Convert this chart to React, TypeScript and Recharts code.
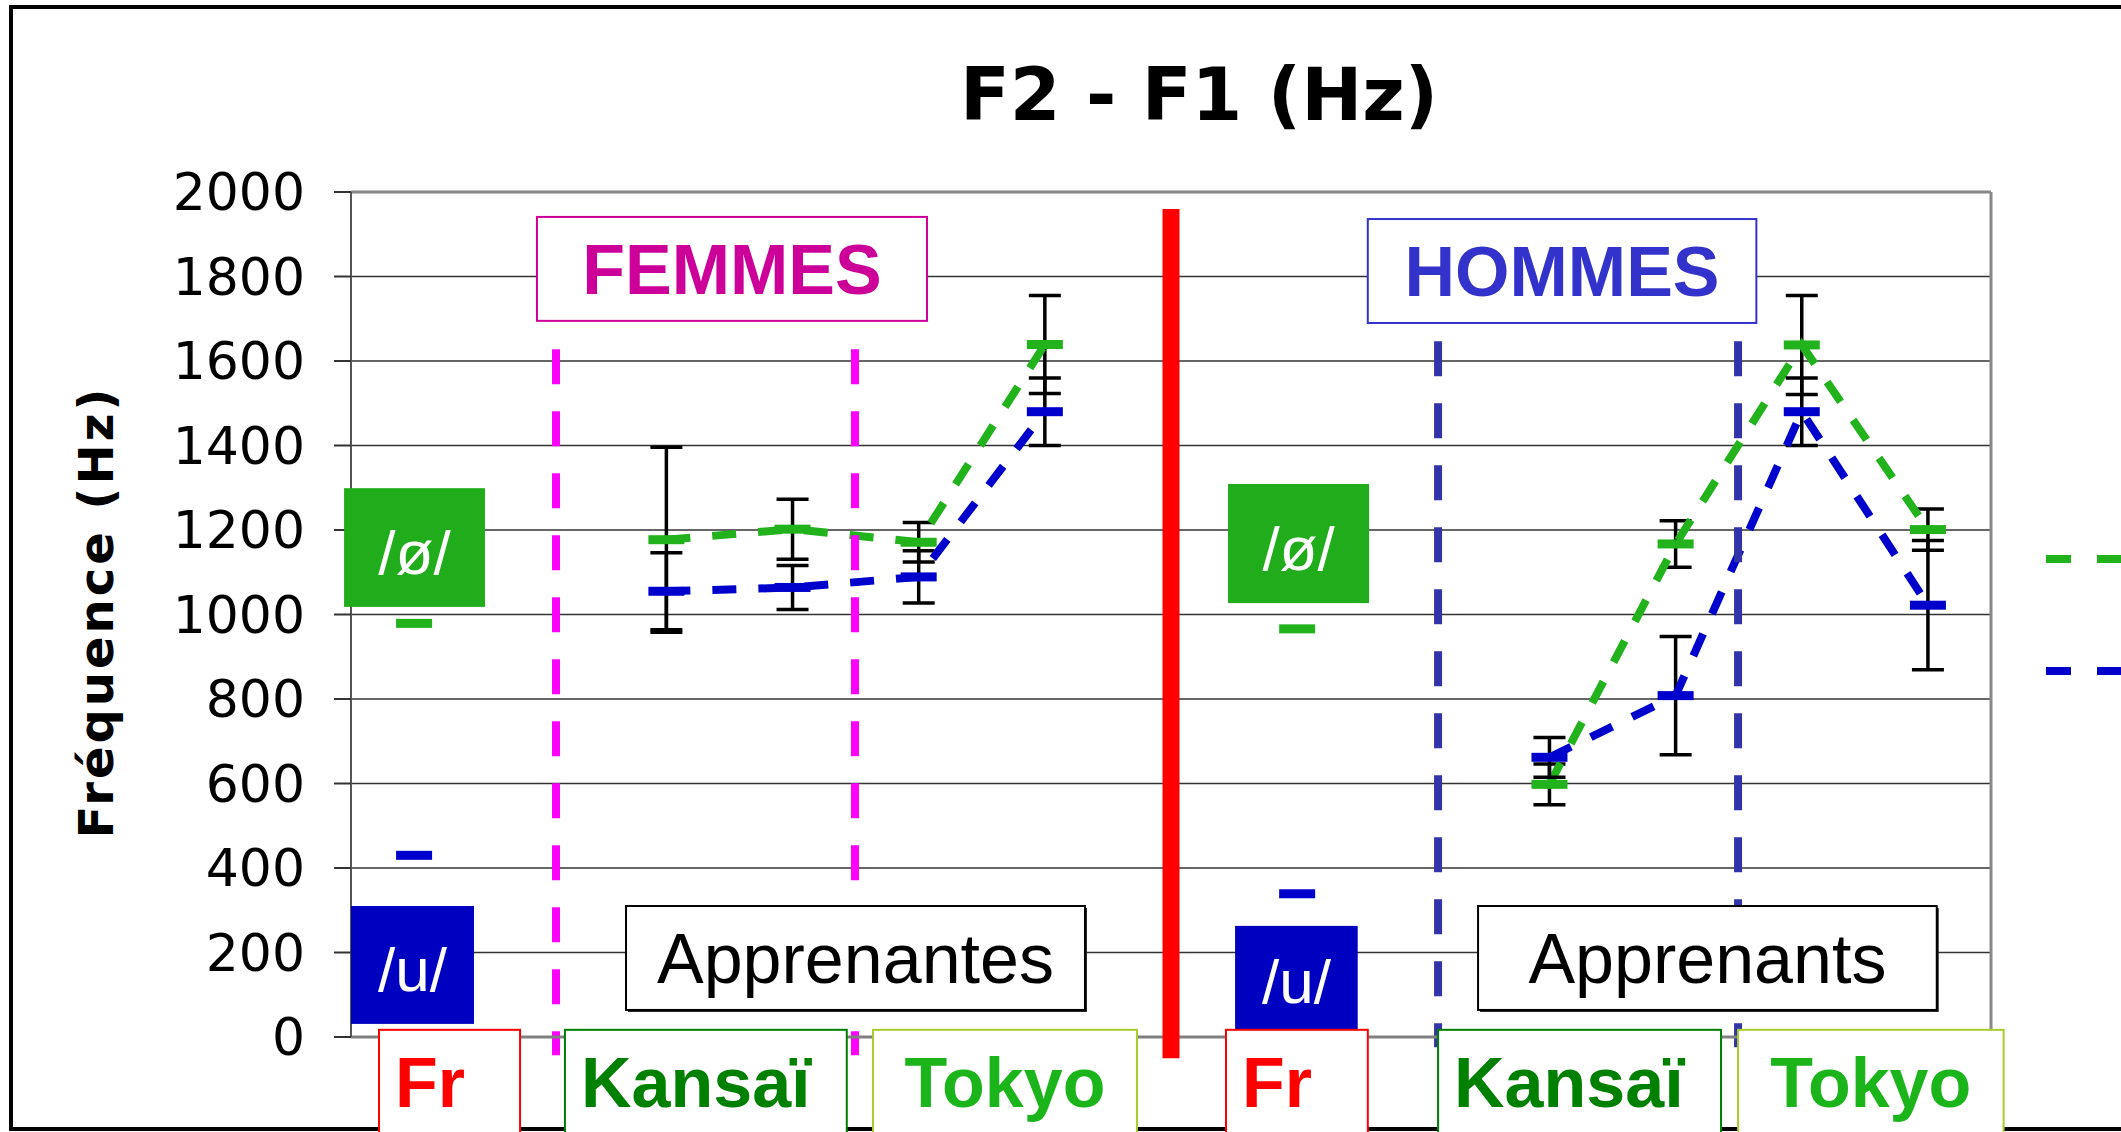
import React from 'react';
import {
  LineChart,
  Line,
  XAxis,
  YAxis,
  CartesianGrid,
  ErrorBar,
  ReferenceLine,
  ReferenceArea,
  Legend,
  Customized,
} from 'recharts';

// categories along the x axis (empty = spacer slot)
const groups = ['Fr', '', 'Kansaï', 'Kansaï', 'Tokyo', 'Tokyo', '', 'Fr', '', 'Kansaï', 'Kansaï', 'Tokyo', 'Tokyo'];
// /ø/ series
const oeValues = [979, null, 1177, 1202, 1171, 1639, null, 966, null, 598, 1167, 1638, 1201];
const oeErrors = [null, null, 219, 71, 47, 116, null, null, null, 48, 55, 117, 49];
// /u/ series
const uValues = [430, null, 1055, 1064, 1089, 1480, null, 339, null, 662, 808, 1480, 1022];
const uErrors = [null, null, 91, 52, 62, 80, null, null, null, 47, 140, 80, 153];
const yTicks = [0, 200, 400, 600, 800, 1000, 1200, 1400, 1600, 1800, 2000];
const legendOrder = ['/ø/', '/u/'];

const data = groups.map((g, i) => ({
  idx: i,
  group: g,
  oe: oeValues[i],
  oeErr: oeErrors[i],
  u: uValues[i],
  uErr: uErrors[i],
}));

const GREEN = '#21B21C';
const BLUE = '#0000CC';
const ARIAL = '"Liberation Sans", Arial, sans-serif';
const VERDANA = '"DejaVu Sans", Verdana, sans-serif';

// annotation boxes, in data units
const catBoxes = [
  { text: 'Fr', x1: -0.278, x2: 0.84, color: '#FF0000', border: '#FF0000', center: false },
  { text: 'Kansaï', x1: 1.196, x2: 3.43, color: '#008000', border: '#008000', center: false },
  { text: 'Tokyo', x1: 3.638, x2: 5.73, color: '#1BB51B', border: '#A8CC28', center: true },
  { text: 'Fr', x1: 6.436, x2: 7.56, color: '#FF0000', border: '#FF0000', center: false },
  { text: 'Kansaï', x1: 8.117, x2: 10.36, color: '#008000', border: '#008000', center: false },
  { text: 'Tokyo', x1: 10.495, x2: 12.6, color: '#1BB51B', border: '#A8CC28', center: true },
];

const noteBoxes = [
  { text: 'FEMMES', x1: 0.974, x2: 4.066, y1: 1695, y2: 1941, color: '#CC0099', fill: '#fff', border: '#CC0099', bold: true, size: 70, dy: 25, shadow: false },
  { text: 'HOMMES', x1: 7.56, x2: 10.64, y1: 1690, y2: 1936, color: '#3333CC', fill: '#fff', border: '#3333CC', bold: true, size: 70, dy: 25, shadow: false },
  { text: 'Apprenantes', x1: 1.68, x2: 5.318, y1: 64, y2: 310, color: '#000', fill: '#fff', border: '#000', bold: false, size: 70, dy: 25, shadow: true },
  { text: 'Apprenants', x1: 8.434, x2: 12.07, y1: 64, y2: 310, color: '#000', fill: '#fff', border: '#000', bold: false, size: 70, dy: 25, shadow: true },
  { text: '/ø/', x1: -0.555, x2: 0.562, y1: 1018, y2: 1299, color: '#fff', fill: '#21AC1B', border: 'none', bold: false, size: 62, dy: 26, shadow: false },
  { text: '/u/', x1: -0.5, x2: 0.475, y1: 31, y2: 310, color: '#fff', fill: '#0000C0', border: 'none', bold: false, size: 62, dy: 26, shadow: false },
  { text: '/ø/', x1: 6.452, x2: 7.57, y1: 1027, y2: 1309, color: '#fff', fill: '#21AC1B', border: 'none', bold: false, size: 62, dy: 26, shadow: false },
  { text: '/u/', x1: 6.508, x2: 7.48, y1: 19, y2: 263, color: '#fff', fill: '#0000C0', border: 'none', bold: false, size: 62, dy: 26, shadow: false },
];

const dividers = [
  { x: 1.125, top: 1628, bottom: -43, color: '#FF00FF' },
  { x: 3.495, top: 1628, bottom: -43, color: '#FF00FF' },
  { x: 8.117, top: 1647, bottom: -24, color: '#3333AA' },
  { x: 10.495, top: 1647, bottom: -24, color: '#3333AA' },
];

const dashDot = (color: string) => (props: any) => {
  const { cx, cy, index } = props;
  if (cx == null || cy == null || isNaN(cy)) return <g key={'d' + index} />;
  return <rect key={'d' + index} x={cx - 18} y={cy - 4.5} width={36} height={9} fill={color} />;
};

const catShape = (b: any) => (p: any) => {
  const { x, y, width, height } = p;
  return (
    <g>
      <rect x={x} y={y} width={width} height={height} fill="#fff" stroke={b.border} strokeWidth={2} />
      <text
        x={b.center ? x + width / 2 : x + 16}
        y={y + 77}
        textAnchor={b.center ? 'middle' : 'start'}
        fontFamily={ARIAL}
        fontWeight="bold"
        fontSize={70}
        fill={b.color}
      >
        {b.text}
      </text>
    </g>
  );
};

const noteShape = (b: any) => (p: any) => {
  const { x, y, width, height } = p;
  return (
    <g>
      {b.shadow && <rect x={x + 2} y={y + 2} width={width} height={height} fill="#222" />}
      <rect
        x={x}
        y={y}
        width={width}
        height={height}
        fill={b.fill}
        stroke={b.border}
        strokeWidth={b.border === 'none' ? 0 : 2}
      />
      <text
        x={x + width / 2}
        y={y + height / 2 + b.dy}
        textAnchor="middle"
        fontFamily={ARIAL}
        fontWeight={b.bold ? 'bold' : 'normal'}
        fontSize={b.size}
        fill={b.color}
      >
        {b.text}
      </text>
    </g>
  );
};

// legend is cropped by the picture's right edge: only the line samples show
const renderLegend = (props: any) => {
  const items = [...(props.payload || [])].sort(
    (a: any, b: any) => legendOrder.indexOf(a.value) - legendOrder.indexOf(b.value)
  );
  return (
    <div>
      {items.map((p: any, i: number) => (
        <div key={i} style={{ height: 112, display: 'flex', alignItems: 'center' }}>
          <svg width={130} height={12}>
            <line x1={0} y1={6} x2={130} y2={6} stroke={p.color} strokeWidth={8} strokeDasharray="25 26" />
          </svg>
        </div>
      ))}
    </div>
  );
};

const Title = () => (
  <g>
    <text x={1199} y={120} textAnchor="middle" fontFamily={VERDANA} fontWeight="bold" fontSize={73} fill="#000">
      F2 - F1 (Hz)
    </text>
    <text
      transform="translate(113, 612) rotate(-90)"
      textAnchor="middle"
      fontFamily={VERDANA}
      fontWeight="bold"
      fontSize={48}
      letterSpacing={3}
      fill="#000"
    >
      Fréquence (Hz)
    </text>
  </g>
);

export default function App() {
  return (
    <div style={{ position: 'absolute', left: 0, top: 0, width: 2121, height: 1132, overflow: 'hidden', background: '#fff' }}>
      <div
        style={{
          position: 'absolute',
          left: 9,
          top: 5,
          width: 2300,
          height: 1126,
          border: '4px solid #000',
          boxSizing: 'border-box',
        }}
      />
      <div style={{ position: 'absolute', left: 0, top: 0 }}>
        <LineChart width={2300} height={1132} data={data} margin={{ top: 192, right: 309, bottom: 0, left: 0 }}>
          <CartesianGrid vertical={false} stroke="#333" strokeWidth={1.5} />
          <XAxis
            type="number"
            dataKey="idx"
            domain={[-0.5, 12.5]}
            tick={false}
            tickLine={false}
            axisLine={{ stroke: '#808080', strokeWidth: 3 }}
            height={95}
          />
          <YAxis
            type="number"
            domain={[0, 2000]}
            ticks={yTicks}
            interval={0}
            width={351}
            tick={{ fontSize: 52, fill: '#000', fontFamily: VERDANA }}
            tickSize={17}
            tickMargin={29}
            tickLine={{ stroke: '#333', strokeWidth: 2 }}
            axisLine={{ stroke: '#555', strokeWidth: 2 }}
          />
          <ReferenceLine y={2000} stroke="#888" strokeWidth={3} />
          <ReferenceLine x={12.5} stroke="#888" strokeWidth={3} />
          <Line
            name="/ø/"
            dataKey="oe"
            type="linear"
            stroke={GREEN}
            strokeWidth={8}
            strokeDasharray="24 22"
            dot={dashDot(GREEN)}
            activeDot={false}
            isAnimationActive={false}
          >
            <ErrorBar dataKey="oeErr" direction="y" width={16} stroke="#000" strokeWidth={3.5} />
          </Line>
          <Line
            name="/u/"
            dataKey="u"
            type="linear"
            stroke={BLUE}
            strokeWidth={8}
            strokeDasharray="24 22"
            dot={dashDot(BLUE)}
            activeDot={false}
            isAnimationActive={false}
          >
            <ErrorBar dataKey="uErr" direction="y" width={16} stroke="#000" strokeWidth={3.5} />
          </Line>
          {dividers.map((d, i) => (
            <ReferenceLine
              key={'v' + i}
              segment={[
                { x: d.x, y: d.top },
                { x: d.x, y: d.bottom },
              ]}
              stroke={d.color}
              strokeWidth={8}
              strokeDasharray="35 27"
              ifOverflow="visible"
              zIndex={450}
            />
          ))}
          {noteBoxes.map((b, i) => (
            <ReferenceArea
              key={'n' + i}
              x1={b.x1}
              x2={b.x2}
              y1={b.y1}
              y2={b.y2}
              ifOverflow="visible"
              shape={noteShape(b)}
              zIndex={650}
            />
          ))}
          {catBoxes.map((b, i) => (
            <ReferenceArea
              key={'c' + i}
              x1={b.x1}
              x2={b.x2}
              y1={-260}
              y2={17}
              ifOverflow="visible"
              shape={catShape(b)}
              zIndex={650}
            />
          ))}
          <ReferenceLine
            segment={[
              { x: 6, y: 1960 },
              { x: 6, y: -50 },
            ]}
            stroke="#FF0000"
            strokeWidth={17}
            ifOverflow="visible"
            zIndex={700}
          />
          <Legend
            layout="vertical"
            align="center"
            verticalAlign="middle"
            content={renderLegend}
            wrapperStyle={{ left: 2046, top: 503, width: 140 }}
          />
          <Customized component={Title} />
        </LineChart>
      </div>
    </div>
  );
}
